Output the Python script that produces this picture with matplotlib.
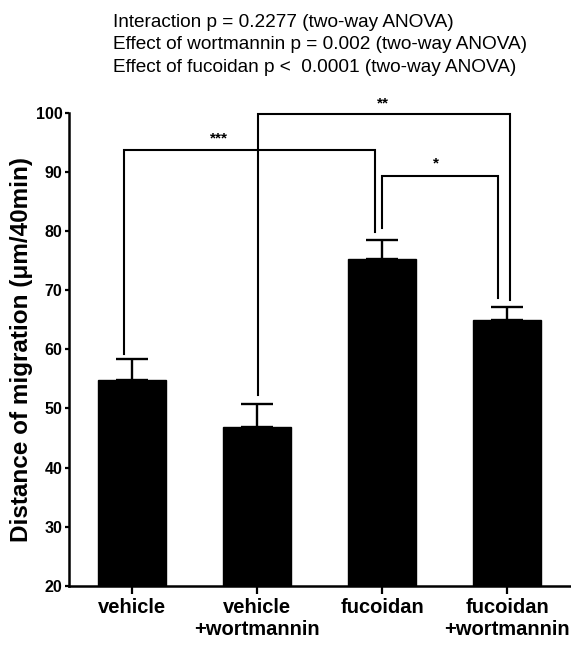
import matplotlib
matplotlib.use("Agg")
import matplotlib.pyplot as plt

plt.rcParams["font.family"] = ["Liberation Sans", "DejaVu Sans"]

# --- data ---
groups = ["vehicle", "vehicle\n+wortmannin", "fucoidan", "fucoidan\n+wortmannin"]
means = [54.8, 46.9, 75.2, 65.0]
sem = [3.5, 3.8, 3.3, 2.2]

header = ["Interaction p = 0.2277 (two-way ANOVA)",
          "Effect of wortmannin p = 0.002 (two-way ANOVA)",
          "Effect of fucoidan p <  0.0001 (two-way ANOVA)"]

# significance brackets: label, left leg x, left leg bottom, right leg x, right leg bottom, top
br_label = ["***", "**", "*"]
br_xl = [-0.06, 1.01, 2.00]
br_yl = [59.2, 52.3, 80.5]
br_xr = [1.94, 3.02, 2.93]
br_yr = [79.9, 68.4, 68.7]
br_top = [93.65, 99.8, 89.3]
star_x = [0.70, 2.01, 2.43]
star_y = [95.6, 101.6, 91.4]

fig = plt.figure(figsize=(5.71, 6.46), dpi=100)
ax = fig.add_axes([0.121, 0.093, 0.877, 0.7325])

x = list(range(len(groups)))
ax.bar(x, means, width=0.545, color="black", edgecolor="black", zorder=2)
ax.errorbar(x, means, yerr=[[0] * len(sem), sem], fmt="none", ecolor="black",
            elinewidth=1.7, capsize=11.5, capthick=1.7, zorder=1)

for i in range(len(br_label)):
    ax.plot([br_xl[i], br_xl[i], br_xr[i], br_xr[i]],
            [br_yl[i], br_top[i], br_top[i], br_yr[i]],
            color="black", lw=1.5, clip_on=False, solid_joinstyle="miter")
    ax.text(star_x[i], star_y[i], br_label[i], ha="center", va="center",
            fontsize=11, fontweight="bold")

ax.set_xlim(-0.5, 3.5)
ax.set_ylim(20, 100)
ax.set_yticks(range(20, 101, 10))
ax.set_xticks(x)
ax.set_xticklabels(groups, fontsize=14.5, fontweight="bold")
for t in ax.get_yticklabels():
    t.set_fontweight("bold")
ax.tick_params(axis="y", labelsize=11.5, length=3.2, width=1.6, pad=1.5)
ax.tick_params(axis="x", length=6, width=1.6, pad=3)
ax.spines["top"].set_visible(False)
ax.spines["right"].set_visible(False)
ax.spines["left"].set_linewidth(1.8)
ax.spines["bottom"].set_linewidth(1.8)

ax.set_ylabel("Distance of migration (μm/40min)", fontsize=17.5, fontweight="bold", labelpad=2)

for k, line in enumerate(header):
    fig.text(0.198, [0.9577, 0.9237, 0.889][k], line, fontsize=13.7, ha="left", va="baseline")

fig.savefig("out.png", dpi=100)
